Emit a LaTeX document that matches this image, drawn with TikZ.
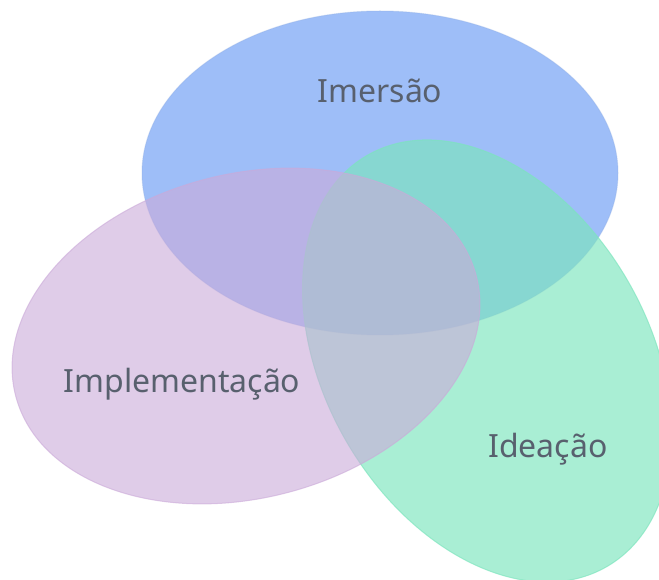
\documentclass[tikz,border=0pt]{standalone}
\usepackage{fontspec}
\setmainfont{Noto Sans}
\definecolor{cblue}{RGB}{158,190,248}
\definecolor{cgreen}{RGB}{124,229,189}
\definecolor{cpurple}{RGB}{203,170,217}
\definecolor{ctext}{RGB}{88,96,110}
\tikzset{
  vennblob/.style={line width=1pt},
  lbl/.style={text=ctext, font=\fontsize{32}{38}\selectfont, anchor=base, inner sep=0pt}
}
\begin{document}
\begin{tikzpicture}[x=1pt,y=-1pt]
\useasboundingbox (0,0) rectangle (659,580);
\fill[white] (0,0) rectangle (659,580);
% Imersao (blue)
\begin{scope}[shift={(380,173)}]
  \path[vennblob, fill=cblue, draw=cblue!92!black, draw opacity=0.35] (0,0) ellipse [x radius=238pt, y radius=162pt];
\end{scope}
% Ideacao (green)
\begin{scope}[shift={(487,361)}, rotate=-59.6]
  \path[vennblob, fill=cgreen, fill opacity=0.65, draw=cgreen, draw opacity=0.65] (0,0) ellipse [x radius=238pt, y radius=162pt];
\end{scope}
% Implementacao (purple)
\begin{scope}[shift={(246,336)}, rotate=14.6]
  \path[vennblob, fill=cpurple, fill opacity=0.6, draw=cpurple, draw opacity=0.6] (0,0) ellipse [x radius=238pt, y radius=162pt];
\end{scope}
\node[lbl] (imersao) at (380,103) {Imersão};
\node[lbl] (implementacao) at (182,392) {Implementação};
\node[lbl] (ideacao) at (548,457) {Ideação};
\end{tikzpicture}
\end{document}
